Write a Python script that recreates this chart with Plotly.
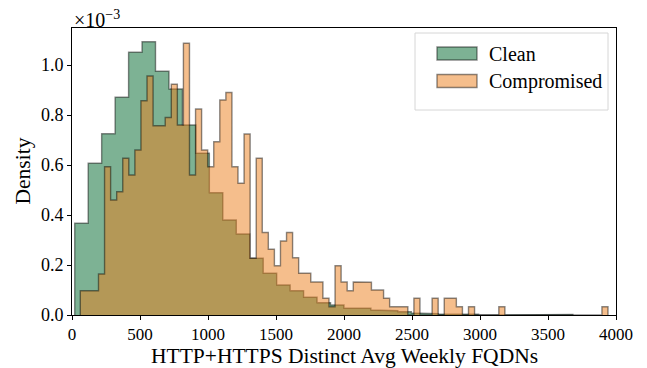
import numpy as np
import plotly.graph_objects as go

# ---- data (density, in units of 1e-3) ----
clean_bin_start = 20.0
clean_bin_width = 99.0
clean_density = [0.367, 0.607, 0.725, 0.871, 1.051, 1.093, 0.975, 0.904, 0.760, 0.647,
                 0.489, 0.380, 0.324, 0.227, 0.167, 0.120, 0.097, 0.071, 0.049, 0.040,
                 0.027, 0.027, 0.020, 0.017, 0.013, 0.008, 0.005, 0.004, 0.004, 0.003,
                 0.000, 0.002, 0.002, 0.000, 0.000, 0.000, 0.002]

comp_bin_start = 61.0
comp_bin_width = 44.6
comp_density = [0.097, 0.097, 0.097, 0.164, 0.593, 0.460, 0.493, 0.627, 0.560, 0.660,
                0.857, 0.956, 0.757, 0.757, 0.790, 0.923, 0.760, 1.087, 0.560, 0.824,
                0.660, 0.593, 0.693, 0.860, 0.890, 0.593, 0.527, 0.724, 0.227, 0.627,
                0.330, 0.263, 0.197, 0.296, 0.330, 0.229, 0.167, 0.167, 0.132, 0.132,
                0.067, 0.033, 0.197, 0.132, 0.097, 0.132, 0.131, 0.131, 0.100, 0.100,
                0.067, 0.033, 0.033, 0.033, 0.000, 0.067, 0.000, 0.000, 0.067, 0.000,
                0.067, 0.067, 0.033, 0.000, 0.033, 0.000, 0.000, 0.000, 0.000, 0.033,
                0.000, 0.000, 0.000, 0.000, 0.000, 0.000, 0.000, 0.000, 0.000, 0.000,
                0.000, 0.000, 0.000, 0.000, 0.000, 0.000, 0.033]

series_names = ["Clean", "Compromised"]
x_title = "HTTP+HTTPS Distinct Avg Weekly FQDNs"
y_title = "Density"
x_ticks = [0, 500, 1000, 1500, 2000, 2500, 3000, 3500, 4000]
y_ticks = [0.0, 0.2, 0.4, 0.6, 0.8, 1.0]
y_tick_labels = ["0.0", "0.2", "0.4", "0.6", "0.8", "1.0"]

FONT = "Liberation Serif"
CLEAN_FILL = "rgba(38,127,77,0.6)"
COMP_FILL = "rgba(235,125,25,0.5)"
EDGE = "rgba(0,0,0,0.45)"


def step_xy(start, width, vals):
    vals = np.asarray(vals, dtype=float)
    edges = start + width * np.arange(len(vals) + 1)
    xs = [edges[0]]
    ys = [0.0]
    for i, v in enumerate(vals):
        xs += [edges[i], edges[i + 1]]
        ys += [v, v]
    xs.append(edges[-1])
    ys.append(0.0)
    return xs, ys


fig = go.Figure()
cx, cy = step_xy(clean_bin_start, clean_bin_width, clean_density)
fig.add_trace(go.Scatter(
    x=cx, y=cy, mode="lines", name=series_names[0], fill="tozeroy",
    fillcolor=CLEAN_FILL, line=dict(color=EDGE, width=1.4), showlegend=False,
))
ox, oy = step_xy(comp_bin_start, comp_bin_width, comp_density)
fig.add_trace(go.Scatter(
    x=ox, y=oy, mode="lines", name=series_names[1], fill="tozeroy",
    fillcolor=COMP_FILL, line=dict(color=EDGE, width=1.4), showlegend=False,
))

# plot area in pixels: left 72, right 616, top 28, bottom 315
L, R, T, B = 72, 616, 28, 315
W, H = R - L, B - T


def px(xp):
    return (xp - L) / W


def py(yp):
    return (B - yp) / H


fig.update_layout(
    width=647, height=368,
    margin=dict(l=L, r=647 - R, t=T, b=368 - B),
    plot_bgcolor="white", paper_bgcolor="white",
    font=dict(family=FONT, size=18, color="black"),
    showlegend=False,
)
fig.update_xaxes(
    range=[0, 4000], tickvals=x_ticks, ticks="outside", ticklen=4, tickcolor="black",
    showline=True, linecolor="black", linewidth=1, mirror=True, showgrid=False,
    zeroline=False, tickfont=dict(size=17), automargin=False,
)
fig.update_yaxes(
    range=[0, 1.148], tickvals=y_ticks, ticktext=y_tick_labels, ticks="outside", ticklen=4,
    tickcolor="black", showline=True, linecolor="black", linewidth=1, mirror=True,
    showgrid=False, zeroline=False, tickfont=dict(size=18), automargin=False,
)
# axis titles
fig.add_annotation(text=x_title, xref="paper", yref="paper", x=0.5, y=py(356),
                   xanchor="center", yanchor="middle", showarrow=False,
                   font=dict(size=21.5, family=FONT))
fig.add_annotation(text=y_title, xref="paper", yref="paper", x=px(22), y=0.5,
                   xanchor="center", yanchor="middle", showarrow=False, textangle=-90,
                   font=dict(size=21.5, family=FONT))
fig.add_annotation(
    text="×10<sup>−3</sup>", xref="paper", yref="paper", x=0, y=1.0,
    xanchor="left", yanchor="bottom", showarrow=False, font=dict(size=20, family=FONT),
    yshift=-5,
)

# manual legend (matplotlib style)
x0, x1, y0, y1 = px(415), px(608), py(33), py(110)
fig.add_shape(type="rect", xref="paper", yref="paper", x0=x0, x1=x1, y0=y1, y1=y0,
              line=dict(color="#d6d6d6", width=1), fillcolor="rgba(255,255,255,0.8)",
              layer="above")
legend_items = [(series_names[0], CLEAN_FILL, 53.5), (series_names[1], COMP_FILL, 81)]
for name, col, yc in legend_items:
    fig.add_shape(type="rect", xref="paper", yref="paper",
                  x0=px(437), x1=px(477), y0=py(yc - 6.5), y1=py(yc + 6.5),
                  fillcolor=col, line=dict(color=EDGE, width=1.4), layer="above")
    fig.add_annotation(text=name, xref="paper", yref="paper", x=px(487), y=py(yc),
                       xanchor="left", yanchor="middle", showarrow=False,
                       font=dict(size=20, family=FONT))

fig.write_html("out.html")
